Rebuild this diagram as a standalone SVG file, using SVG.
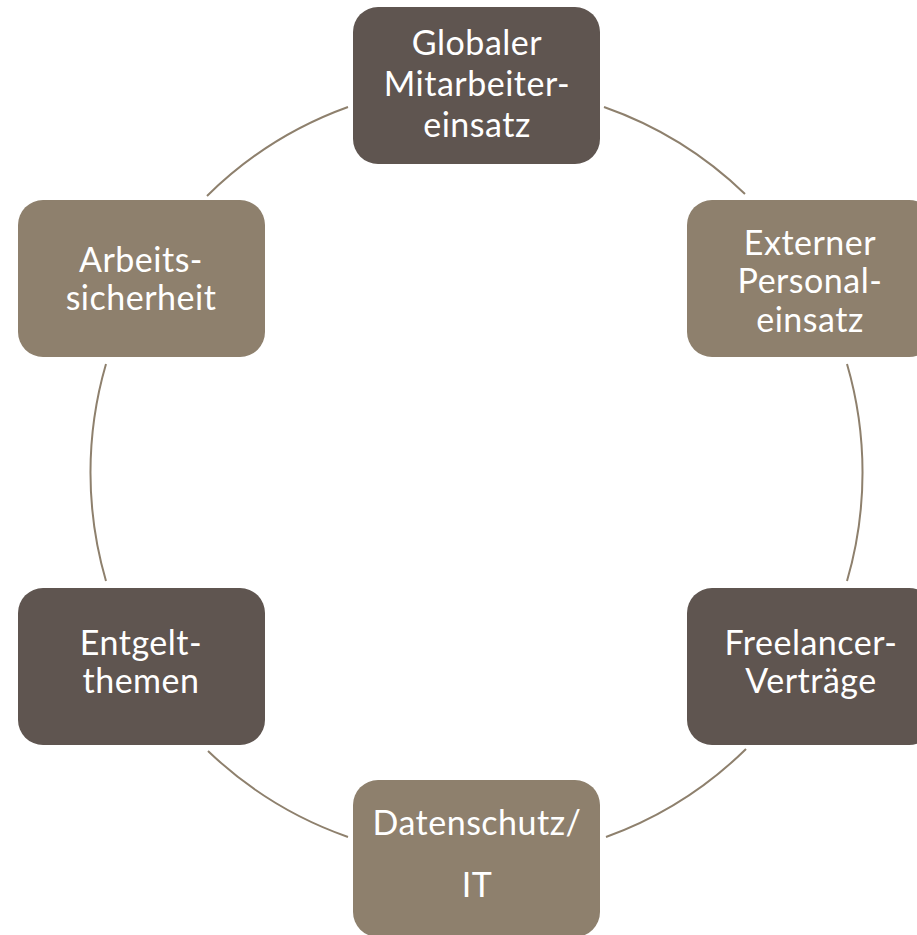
<svg xmlns="http://www.w3.org/2000/svg" width="917" height="935" viewBox="0 0 917 935">
<style>
.dark{fill:#5f5550}
.tan{fill:#8e806d}
.arc{fill:none;stroke:#8e806d;stroke-width:2}
text{font-family:Lato,"Open Sans",sans-serif;font-size:34px;letter-spacing:0.5px;fill:#ffffff;text-anchor:middle}
</style>
<rect width="917" height="935" fill="#ffffff"/>
<g id="connectors">
<path class="arc" d="M348,107 A387,387 0 0 0 207,196"/>
<path class="arc" d="M604,107 A387,387 0 0 1 745,194"/>
<path class="arc" d="M106,364 A387,387 0 0 0 106,581"/>
<path class="arc" d="M847,364 A387,387 0 0 1 847,581"/>
<path class="arc" d="M208,751 A387,387 0 0 0 348,837"/>
<path class="arc" d="M606,837 A387,387 0 0 0 746,749"/>
</g>
<g id="node-global">
<rect class="dark" x="353" y="7" width="247" height="157" rx="25"/>
<text x="477" y="55">Globaler</text>
<text x="477" y="96">Mitarbeiter-</text>
<text x="477" y="137">einsatz</text>
</g>
<g id="node-extern">
<rect class="tan" x="687" y="200" width="247" height="157" rx="25"/>
<text x="810" y="255">Externer</text>
<text x="810" y="293">Personal-</text>
<text x="810" y="332">einsatz</text>
</g>
<g id="node-freelancer">
<rect class="dark" x="687" y="588" width="247" height="157" rx="25"/>
<text x="811" y="655">Freelancer-</text>
<text x="811" y="693">Verträge</text>
</g>
<g id="node-datenschutz">
<rect class="tan" x="353" y="780" width="247" height="157" rx="25"/>
<text x="477" y="835">Datenschutz/</text>
<text x="477" y="897">IT</text>
</g>
<g id="node-entgelt">
<rect class="dark" x="18" y="588" width="247" height="157" rx="25"/>
<text x="141" y="655">Entgelt-</text>
<text x="141" y="693">themen</text>
</g>
<g id="node-arbeit">
<rect class="tan" x="18" y="200" width="247" height="157" rx="25"/>
<text x="141" y="272">Arbeits-</text>
<text x="141" y="310">sicherheit</text>
</g>
</svg>
